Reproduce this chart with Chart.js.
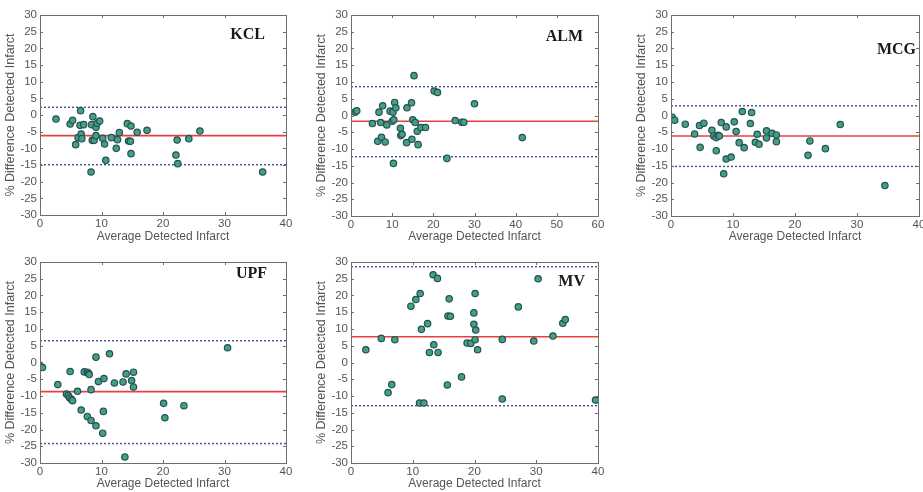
<!DOCTYPE html>
<html>
<head>
<meta charset="utf-8">
<script src="https://cdn.jsdelivr.net/npm/chart.js@4"></script>
<style>
  html, body { margin: 0; padding: 0; background: #fff; overflow: hidden; }
  body { width: 923px; height: 492px; position: relative; }
  canvas { position: absolute; }
</style>
</head>
<body>
<canvas id="kcl"></canvas>
<canvas id="alm"></canvas>
<canvas id="mcg"></canvas>
<canvas id="upf"></canvas>
<canvas id="mv"></canvas>
<script>
// Bland-Altman panels: average detected infarct vs % difference, one chart per method.
const panelNames = ["KCL", "ALM", "MCG", "UPF", "MV"];
const xMaxes = [40, 60, 40, 40, 40];
const yMin = -30, yMax = 30, yStep = 5, xStep = 10;
const xTitle = "Average Detected Infarct";
const yTitle = "% Difference Detected Infarct";

const meanDiff = [-6.2, -1.7, -6.1, -8.7, 7.7];
const upperLoA = [2.3, 8.6, 2.9, 6.5, 28.6];
const lowerLoA = [-14.9, -12.3, -15.2, -24.2, -12.9];

const kclAvg = [2.6, 4.9, 5.3, 6.6, 6.5, 7.1, 5.8, 6.2, 6.7, 6.8, 8.6, 8.4, 9.1, 9.3, 9.7, 8.5, 8.8, 9.1, 8.3, 10.2,
  10.5, 10.7, 11.6, 12.4, 12.6, 12.9, 14.2, 14.8, 14.4, 14.7, 14.8, 15.8, 17.4, 22.1, 22.3, 22.4, 24.2, 26.0, 36.2];
const kclDiff = [-1.2, -2.7, -1.6, 1.3, -3.1, -2.9, -8.9, -6.8, -5.7, -7.1, -0.5, -2.9, -3.7, -2.5, -1.8, -7.6, -7.6, -6.2, -17.1, -7.0,
  -8.7, -13.6, -6.8, -10.0, -7.4, -5.3, -2.6, -3.3, -7.8, -7.9, -11.6, -5.2, -4.6, -12.0, -7.5, -14.6, -7.1, -4.8, -17.1];

const almAvg = [1.0, 1.4, 5.2, 6.5, 6.8, 7.2, 7.4, 7.7, 8.3, 8.7, 9.5, 10.0, 10.2, 10.4, 10.3, 10.6, 10.9, 12.0, 12.1, 12.4,
  13.5, 13.6, 14.7, 14.8, 15.0, 15.3, 15.6, 16.1, 16.3, 17.0, 18.1, 20.2, 21.0, 23.3, 25.3, 26.9, 27.4, 30.0, 41.6];
const almDiff = [1.0, 1.4, -2.4, -7.7, 1.0, -2.1, -6.5, 2.9, -7.9, -2.8, 1.3, -1.7, 1.0, -1.3, -14.3, 3.9, 2.3, -3.8, -6.0, -5.6,
  -8.1, 2.3, 3.8, -7.1, -1.3, 11.9, -2.1, -4.7, -8.7, -3.6, -3.6, 7.3, 6.9, -12.8, -1.5, -2.0, -2.0, 3.5, -6.6];

const mcgAvg = [0.2, 0.6, 2.3, 3.8, 4.6, 4.7, 5.3, 6.6, 6.9, 7.3, 7.6, 7.8, 7.3, 8.1, 8.5, 8.9, 8.9, 9.7, 10.2, 10.5,
  11.0, 11.5, 11.8, 12.8, 13.0, 13.6, 13.9, 14.2, 15.4, 15.4, 16.3, 17.0, 17.0, 22.1, 22.4, 24.9, 27.3, 34.5];
const mcgDiff = [-0.5, -1.4, -2.6, -5.5, -3.0, -9.5, -2.3, -4.4, -6.1, -6.6, -5.9, -6.1, -10.5, -2.1, -17.4, -3.4, -13.0, -12.4, -1.9, -4.8,
  -8.1, 1.2, -9.6, -2.4, 0.9, -8.0, -5.6, -8.6, -6.7, -4.6, -5.3, -5.8, -7.8, -11.9, -7.6, -9.9, -2.7, -20.9];

const upfAvg = [0.0, 0.4, 2.9, 4.3, 4.6, 4.8, 5.1, 5.3, 4.9, 6.1, 6.7, 7.2, 7.7, 7.9, 8.0, 7.7, 8.3, 8.3, 9.1, 9.1,
  9.5, 10.4, 10.3, 10.2, 11.3, 12.1, 13.5, 13.8, 14.0, 14.9, 15.2, 15.2, 20.1, 20.3, 23.4, 30.5];
const upfDiff = [-0.8, -1.5, -6.6, -9.4, -9.9, -10.5, -11.0, -11.4, -2.7, -8.6, -14.2, -2.8, -2.9, -3.2, -3.6, -16.1, -8.1, -17.3, 1.6, -18.9,
  -5.7, -4.8, -14.6, -21.1, 2.6, -6.1, -5.8, -28.2, -3.4, -5.4, -2.9, -7.3, -12.2, -16.5, -12.9, 4.4];

const mvAvg = [2.4, 4.9, 7.1, 6.0, 6.6, 9.7, 10.5, 11.2, 11.4, 12.4, 11.1, 11.8, 12.7, 13.4, 13.3, 14.0, 14.1, 15.6, 15.7, 15.9,
  16.1, 17.9, 18.8, 19.4, 19.9, 19.9, 20.1, 20.2, 20.1, 20.5, 24.5, 24.5, 27.1, 29.6, 30.3, 32.7, 34.3, 34.7, 39.6];
const mvDiff = [3.8, 7.2, 6.8, -9.0, -6.6, 16.8, 18.8, 20.6, 9.9, 11.6, -12.1, -12.1, 3.0, 5.3, 26.2, 25.1, 3.0, -6.7, 13.9, 19.0,
  13.8, -4.3, 5.8, 5.7, 11.4, 14.8, 20.6, 9.7, 6.8, 3.8, 6.9, -10.9, 16.6, 6.4, 25.0, 7.9, 11.7, 12.8, -11.2];

const seriesAvg = [kclAvg, almAvg, mcgAvg, upfAvg, mvAvg];
const seriesDiff = [kclDiff, almDiff, mcgDiff, upfDiff, mvDiff];

// Page layout: canvas box plus the plot-area edges the reference uses.
const boxes = [
  { id: "kcl", left: 0,   top: 0,   width: 300, height: 245, padTop: 15, padRight: 14, yw: 40, xh: 30, lx: 21, ly: 23.5 },
  { id: "alm", left: 311, top: 0,   width: 301, height: 245, padTop: 15, padRight: 14, yw: 40, xh: 29, lx: 15, ly: 25.5 },
  { id: "mcg", left: 631, top: 0,   width: 302, height: 245, padTop: 15, padRight: 14, yw: 40, xh: 29, lx: 3,  ly: 38.5 },
  { id: "upf", left: 0,   top: 247, width: 300, height: 245, padTop: 15, padRight: 14, yw: 40, xh: 29, lx: 19, ly: 15.5 },
  { id: "mv",  left: 311, top: 247, width: 301, height: 245, padTop: 15, padRight: 14, yw: 40, xh: 29, lx: 13, ly: 23.5 },
];

const frameColor = "#6e6e6e";
const textColor = "#555555";
const sans = "'Liberation Sans', Arial, sans-serif";

// Box round the plot, inward tick marks on all four sides, and the method label.
const framePlugin = {
  id: "frame",
  afterDraw(chart, args, opts) {
    const { ctx, chartArea: a, scales } = chart;
    ctx.save();
    ctx.strokeStyle = frameColor;
    ctx.lineWidth = 1;
    ctx.strokeRect(Math.round(a.left) + 0.5, Math.round(a.top) + 0.5, Math.round(a.right - a.left), Math.round(a.bottom - a.top));
    ctx.beginPath();
    scales.x.ticks.forEach(t => {
      const px = Math.round(scales.x.getPixelForValue(t.value)) + 0.5;
      ctx.moveTo(px, a.bottom); ctx.lineTo(px, a.bottom - 3);
      ctx.moveTo(px, a.top); ctx.lineTo(px, a.top + 3);
    });
    scales.y.ticks.forEach(t => {
      const py = Math.round(scales.y.getPixelForValue(t.value)) + 0.5;
      ctx.moveTo(a.left, py); ctx.lineTo(a.left + 3, py);
      ctx.moveTo(a.right, py); ctx.lineTo(a.right - 3, py);
    });
    ctx.stroke();
    ctx.fillStyle = "#1a1a1a";
    ctx.font = "bold 16px 'Liberation Serif', 'Times New Roman', serif";
    ctx.textAlign = "right";
    ctx.textBaseline = "alphabetic";
    ctx.fillText(opts.text, a.right - opts.dx, a.top + opts.dy);
    ctx.restore();
  }
};

function hLine(y, xMax) {
  return [{ x: 0, y: y }, { x: xMax, y: y }];
}

function makePanel(i) {
  const b = boxes[i];
  const canvas = document.getElementById(b.id);
  canvas.width = b.width;
  canvas.height = b.height;
  canvas.style.left = b.left + "px";
  canvas.style.top = b.top + "px";

  const points = seriesAvg[i].map((x, k) => ({ x: x, y: seriesDiff[i][k] }));
  const xMax = xMaxes[i];

  new Chart(canvas, {
    type: "scatter",
    data: {
      datasets: [
        {
          data: points,
          pointRadius: 3.2,
          pointBackgroundColor: "#45a07f",
          pointBorderColor: "#24505a",
          pointBorderWidth: 1.2,
        },
        {
          data: hLine(meanDiff[i], xMax),
          showLine: true, pointRadius: 0,
          borderColor: "#e8413c", borderWidth: 1.6,
        },
        {
          data: hLine(upperLoA[i], xMax),
          showLine: true, pointRadius: 0,
          borderColor: "#4a4a9a", borderWidth: 1.4, borderDash: [2, 2],
        },
        {
          data: hLine(lowerLoA[i], xMax),
          showLine: true, pointRadius: 0,
          borderColor: "#4a4a9a", borderWidth: 1.4, borderDash: [2, 2],
        },
      ],
    },
    options: {
      responsive: false,
      animation: false,
      events: [],
      layout: { padding: { top: b.padTop, right: b.padRight, left: 0, bottom: 0 } },
      plugins: {
        legend: { display: false },
        tooltip: { enabled: false },
        frame: { text: panelNames[i], dx: b.lx, dy: b.ly },
      },
      scales: {
        x: {
          type: "linear", min: 0, max: xMax,
          grid: { display: false, drawTicks: false },
          border: { display: false },
          ticks: { stepSize: xStep, autoSkip: false, maxRotation: 0, padding: 2, color: textColor, font: { family: sans, size: 11.5 } },
          title: { display: true, text: xTitle, color: textColor, padding: { top: 0, bottom: 1 },
                   font: { family: sans, size: 12 } },
          afterFit: s => { s.height = b.xh; },
        },
        y: {
          type: "linear", min: yMin, max: yMax,
          grid: { display: false, drawTicks: false },
          border: { display: false },
          ticks: { stepSize: yStep, autoSkip: false, padding: 3, color: textColor, font: { family: sans, size: 11.5 } },
          title: { display: true, text: yTitle, color: textColor, padding: { top: 3, bottom: 0 },
                   font: { family: sans, size: 12.5 } },
          afterFit: s => { s.width = b.yw; },
        },
      },
    },
    plugins: [framePlugin],
  });
}

for (let i = 0; i < panelNames.length; i++) makePanel(i);
</script>
</body>
</html>
